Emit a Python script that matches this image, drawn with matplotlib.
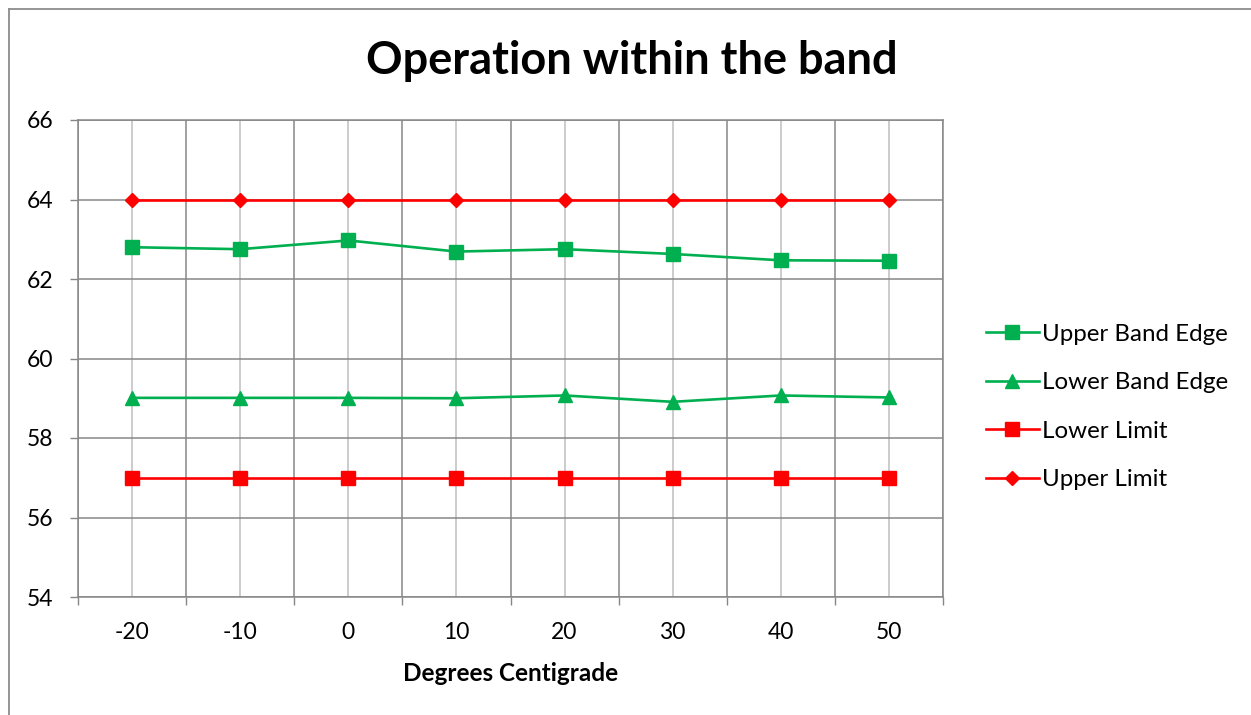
import matplotlib
matplotlib.use("Agg")
import matplotlib.pyplot as plt
from matplotlib.lines import Line2D
import numpy as np

# Temperature categories (degrees C)
temps = ["-20", "-10", "0", "10", "20", "30", "40", "50"]

upper_band_edge = [62.80, 62.75, 62.97, 62.69, 62.75, 62.63, 62.47, 62.46]
lower_band_edge = [59.01, 59.01, 59.01, 59.00, 59.07, 58.91, 59.07, 59.02]
lower_limit = [57, 57, 57, 57, 57, 57, 57, 57]
upper_limit = [64, 64, 64, 64, 64, 64, 64, 64]

y_ticks = [54, 56, 58, 60, 62, 64, 66]

GREEN = "#00B050"
RED = "#FF0000"
DARK_GRID = "#878787"
LIGHT_GRID = "#BFBFBF"
FONT = "Lato"

W, H = 1251, 715
fig = plt.figure(figsize=(W / 100, H / 100), dpi=100)
fig.patch.set_facecolor("white")

left, right, top, bottom = 78, 943, 120, 597
ax = fig.add_axes([left / W, 1 - bottom / H, (right - left) / W, (bottom - top) / H])

x = np.arange(len(temps))

ax.plot(x, upper_band_edge, color=GREEN, lw=1.9, marker="s", ms=9.5,
        label="Upper Band Edge", zorder=5)
ax.plot(x, lower_band_edge, color=GREEN, lw=1.9, marker="^", ms=10,
        label="Lower Band Edge", zorder=5)
ax.plot(x, lower_limit, color=RED, lw=1.9, marker="s", ms=9.5,
        label="Lower Limit", zorder=5)
ax.plot(x, upper_limit, color=RED, lw=1.9, marker="D", ms=7,
        label="Upper Limit", zorder=5)

ax.set_xlim(-0.5, len(temps) - 0.5)
ax.set_ylim(y_ticks[0], y_ticks[-1])

TICK_FS = 16.5

# Category boundaries carry the dark grid and tick marks; centres carry labels
ax.set_xticks(np.arange(len(temps) + 1) - 0.5)
ax.set_xticklabels([])
ax.set_xticks(x, minor=True)
ax.set_xticklabels(temps, minor=True, fontsize=TICK_FS, family=FONT)
ax.tick_params(axis="x", which="major", direction="out", length=6,
               width=1, color=DARK_GRID)
ax.tick_params(axis="x", which="minor", length=0, pad=18)

ax.set_yticks(y_ticks)
ax.set_yticklabels([str(v) for v in y_ticks], fontsize=TICK_FS, family=FONT)
ax.tick_params(axis="y", direction="out", length=6, width=1,
               color=DARK_GRID, pad=11.5)

ax.grid(True, which="major", color=DARK_GRID, lw=1.1, zorder=0)
ax.grid(True, which="minor", axis="x", color=LIGHT_GRID, lw=1.1, zorder=0)
ax.set_axisbelow(True)

for s in ax.spines.values():
    s.set_color(DARK_GRID)
    s.set_linewidth(1.1)

ax.set_xlabel("Degrees Centigrade", fontsize=17.5, fontweight="bold",
              family=FONT, labelpad=14)

fig.text(632 / W, 1 - 61 / H, "Operation within the band", ha="center",
         va="center", fontsize=32.5, fontweight="bold", family=FONT)

leg = ax.legend(loc="center left", bbox_to_anchor=(1.024, 0.398), frameon=False,
                prop={"family": FONT, "size": 17.4}, handlelength=2.2,
                labelspacing=1.14, handletextpad=0.15)

# Chart area border
fig.add_artist(Line2D([9 / W, 9 / W], [0, 1 - 9 / H], color="#8C8C8C", lw=1.3))
fig.add_artist(Line2D([9 / W, 1], [1 - 9 / H, 1 - 9 / H], color="#8C8C8C", lw=1.3))

fig.savefig("out.png", dpi=100, facecolor="white")
